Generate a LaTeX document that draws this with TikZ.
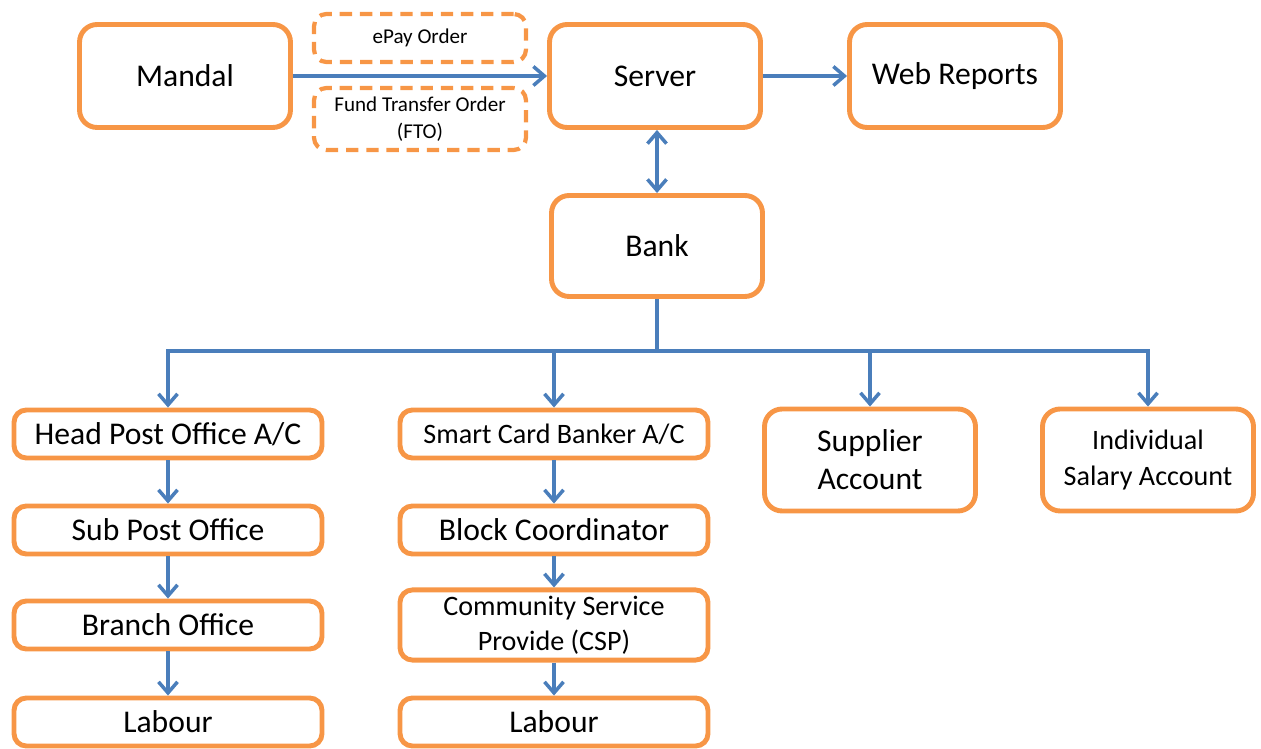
\documentclass[tikz,border=0pt]{standalone}
\usepackage{fontspec}
\setmainfont{Carlito}
\usepackage{tikz}
\usetikzlibrary{arrows.meta}
\definecolor{boxorange}{HTML}{F79646}
\definecolor{linkblue}{HTML}{4A7EBB}
\tikzset{bigbox/.style={draw=boxorange,line width=2.8pt,rounded corners=10pt,align=center,minimum width=4.22cm,minimum height=2.06cm,font=\fontsize{18}{21.6}\selectfont} }
\tikzset{rowbox/.style={draw=boxorange,line width=2.8pt,rounded corners=7pt,align=center,minimum width=6.16cm,minimum height=0.96cm,font=\fontsize{18}{21.6}\selectfont} }
\tikzset{dashbox/.style={draw=boxorange,line width=2.4pt,dash pattern=on 7pt off 4.5pt,rounded corners=7pt,align=center,minimum width=4.24cm,font=\fontsize{12}{15.4}\selectfont} }
\tikzset{link/.style={draw=linkblue,line width=2pt,-{Straight Barb[length=2.2mm,width=3.8mm]}} }

\begin{document}
\begin{tikzpicture}[x=0.02cm,y=-0.02cm]
    \useasboundingbox (0,0) rectangle (1261,749);
    % top row
    \node[bigbox] (mandal) at (185,76) {Mandal};
    \node[dashbox,minimum height=0.96cm] (epay) at (420,38) {ePay Order};
    \node[dashbox,minimum height=1.24cm] (fto) at (420,119) {Fund Transfer Order\\(FTO)};
    \node[bigbox] (server) at (655,76) {Server};
    \node[bigbox] (web) at (955,76) {Web Reports};
    \node[bigbox,minimum height=2.02cm] (bank) at (657,246) {Bank};
    \coordinate (bus) at (657,351);
    % post office chain
    \node[rowbox] (hpo) at (168,434) {Head Post Office A/C};
    \node[rowbox] (spo) at (168,530) {Sub Post Office};
    \node[rowbox] (bo) at (168,625) {Branch Office};
    \node[rowbox] (labourA) at (168,722) {Labour};
    % smart card chain
    \node[rowbox,font=\fontsize{16}{20}\selectfont] (scb) at (554,434) {Smart Card Banker A/C};
    \node[rowbox] (bc) at (554,530) {Block Coordinator};
    \node[rowbox,minimum height=1.38cm,font=\fontsize{16}{20}\selectfont] (csp) at (554,625) {Community Service\\Provide (CSP)};
    \node[rowbox] (labourB) at (554,722) {Labour};
    % accounts
    \node[bigbox,minimum height=2.04cm] (supp) at (870,460) {Supplier\\Account};
    \node[bigbox,minimum height=2.04cm,font=\fontsize{16}{20}\selectfont] (indiv) at (1148,460) {Individual\\Salary Account};
    % connectors
    \draw[link] (mandal.east) -- (server.west);
    \draw[link] (server.east) -- (web.west);
    \draw[link,{Straight Barb[length=2.2mm,width=3.8mm]}-{Straight Barb[length=2.2mm,width=3.8mm]}] (server.south -| bank.north) -- (bank.north);
    \draw[draw=linkblue,line width=2pt] (bank.south) -- (bus);
    \draw[link] (bus) -| (hpo.north);
    \draw[link] (bus) -| (scb.north);
    \draw[link] (bus) -| (supp.north);
    \draw[link] (bus) -| (indiv.north);
    \draw[link] (hpo) -- (spo);
    \draw[link] (spo) -- (bo);
    \draw[link] (bo) -- (labourA);
    \draw[link] (scb) -- (bc);
    \draw[link] (bc) -- (csp);
    \draw[link] (csp) -- (labourB);
\end{tikzpicture}
\end{document}
